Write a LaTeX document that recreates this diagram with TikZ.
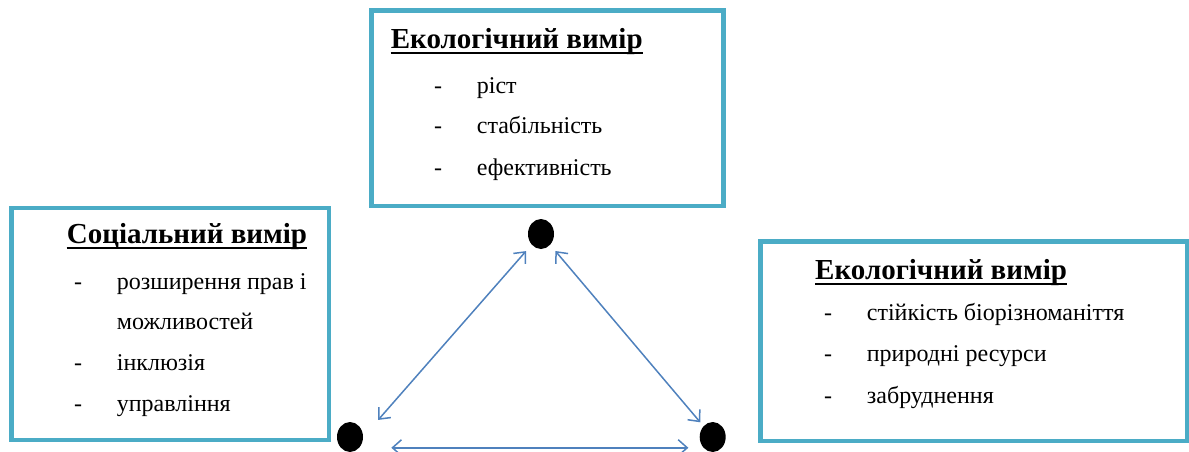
\documentclass[tikz,border=0pt]{standalone}
\usepackage{fontspec}
\setmainfont{Liberation Serif}
\usetikzlibrary{arrows.meta,shapes.geometric}
\definecolor{boxblue}{HTML}{4BACC6}
\definecolor{arrblue}{HTML}{4F81BD}

\begin{document}
\begin{tikzpicture}[x=1pt,y=-1pt,
    frame/.style={draw=boxblue,line width=4.5pt,minimum width=#1},
    title/.style={anchor=base west,inner sep=0pt,font=\fontsize{29}{34}\selectfont\bfseries},
    uline/.style={line width=2.6pt},
    item/.style={anchor=base west,inner sep=0pt,font=\fontsize{24}{28}\selectfont},
    dot/.style={ellipse,fill=black,minimum width=26pt,minimum height=30pt,inner sep=0pt},
    link/.style={arrblue,line width=1.5pt,{Straight Barb[length=9pt,width=16pt]}-{Straight Barb[length=9pt,width=16pt]}}]
    \useasboundingbox (0,0) rectangle (1189,452);

    % the three boxes
    \node[frame=352pt,minimum height=195.5pt] (ecobox) at (547.5,108.25) {};
    \node[frame=317.5pt,minimum height=232pt] (socbox) at (170.25,324) {};
    \node[frame=426.5pt,minimum height=199.5pt] (envbox) at (973.75,341.25) {};

    % top box
    \node[title] (ecotitle) at (390.7,48.3) {Екологічний вимір};
    \draw[uline] ([yshift=-4.6pt]ecotitle.base west) -- ([yshift=-4.6pt]ecotitle.base east);
    \node[item] (ecod1) at (434,93.3) {-};
    \node[item] (ecoi1) at (476.7,93.3) {ріст};
    \node[item] (ecod2) at (434,133.3) {-};
    \node[item] (ecoi2) at (476.7,133.3) {стабільність};
    \node[item] (ecod3) at (434,175) {-};
    \node[item] (ecoi3) at (476.7,175) {ефективність};

    % left box
    \node[title] (soctitle) at (66.7,243.3) {Соціальний вимір};
    \draw[uline] ([yshift=-4.6pt]soctitle.base west) -- ([yshift=-4.6pt]soctitle.base east);
    \node[item] (socd1) at (74,289.3) {-};
    \node[item] (soci1) at (116.7,289.3) {розширення прав і};
    \node[item] (soci1b) at (116.7,329.3) {можливостей};
    \node[item] (socd2) at (74,370.7) {-};
    \node[item] (soci2) at (116.7,370.7) {інклюзія};
    \node[item] (socd3) at (74,411) {-};
    \node[item] (soci3) at (116.7,411) {управління};

    % right box
    \node[title] (envtitle) at (815,279.3) {Екологічний вимір};
    \draw[uline] ([yshift=-4.6pt]envtitle.base west) -- ([yshift=-4.6pt]envtitle.base east);
    \node[item] (envd1) at (824,320.7) {-};
    \node[item] (envi1) at (866.7,320.7) {стійкість біорізноманіття};
    \node[item] (envd2) at (824,361) {-};
    \node[item] (envi2) at (866.7,361) {природні ресурси};
    \node[item] (envd3) at (824,403.3) {-};
    \node[item] (envi3) at (866.7,403.3) {забруднення};

    % triangle
    \node[dot] (top) at (541,234) {};
    \node[dot] (left) at (350,437) {};
    \node[dot] (right) at (712.7,437) {};
    \draw[link,shorten <=8.5pt,shorten >=22.7pt] (top) -- (left.east);
    \draw[link,shorten <=8pt,shorten >=5pt] (top) -- (right);
    \draw[link,shorten <=32pt,shorten >=15pt] (left.south east) -- (right.south west);
\end{tikzpicture}
\end{document}
